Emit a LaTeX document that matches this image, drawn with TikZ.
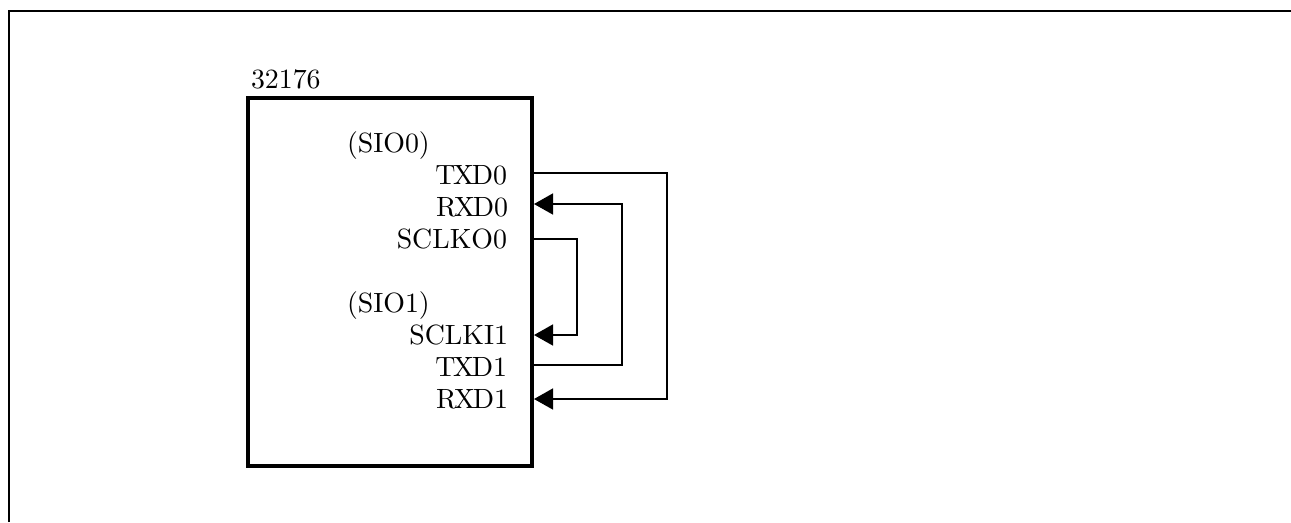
\documentclass[tikz,border=0pt]{standalone}
\usetikzlibrary{arrows.meta}
\newlength{\px}
\setlength{\px}{0.3914pt}
\newcommand{\tg}{\kern-.9pt }
\tikzset{
  x=\px,y=-\px,
  every node/.style={font=\fontsize{10.9}{13}\selectfont},
  chipbox/.style={draw,line width=4\px,outer sep=0pt,minimum width=284\px,minimum height=368\px,inner sep=0pt,anchor=north west},
  pin/.style={anchor=base east,inner sep=0pt,outer sep=0pt},
  lbl/.style={anchor=base west,inner sep=0pt,outer sep=0pt},
  wire/.style={line width=1.8\px},
  inwire/.style={wire,-{Triangle[length=7.44pt,width=8.2pt]}},
}
\begin{document}
\begin{tikzpicture}
\useasboundingbox (0,0) rectangle (1291,522);
\draw[line width=2.4\px] (9,522) -- (9,11) -- (1291,11);
\node[chipbox] (chip) at (248,98) {};
\node[lbl] (t32176) at (251,88) {32176};
\node[lbl] (sioa) at (347,152) {(SIO0)};
\node[pin] (txa) at (507,184) {T\tg X\tg D0};
\node[pin] (rxa) at (508,216) {R\tg X\tg D0};
\node[pin] (cka) at (507,248) {SCLKO0};
\node[lbl] (siob) at (347,312) {(SIO1)};
\node[pin] (ckb) at (508,344) {SCLKI1};
\node[pin] (txb) at (507,376) {T\tg X\tg D1};
\node[pin] (rxb) at (508,408) {R\tg X\tg D1};
\coordinate (ptxa) at (534,173);
\coordinate (prxa) at (534,204);
\coordinate (pcka) at (534,239);
\coordinate (pckb) at (534,335);
\coordinate (ptxb) at (534,365);
\coordinate (prxb) at (534,399);
\coordinate (c1a) at (667,173);
\coordinate (c1b) at (667,399);
\coordinate (c2a) at (622,365);
\coordinate (c2b) at (622,204);
\coordinate (c3a) at (577,239);
\coordinate (c3b) at (577,335);
\draw[inwire] (ptxa) -- (c1a) -- (c1b) -- (prxb);
\draw[inwire] (ptxb) -- (c2a) -- (c2b) -- (prxa);
\draw[inwire] (pcka) -- (c3a) -- (c3b) -- (pckb);
\end{tikzpicture}
\end{document}
